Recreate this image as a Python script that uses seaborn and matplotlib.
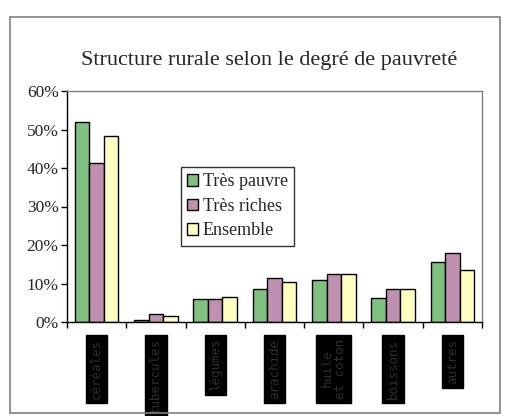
import numpy as np
import pandas as pd
import matplotlib
matplotlib.use('Agg')
import matplotlib.pyplot as plt
import matplotlib.patches as mpatches
import seaborn as sns

# ── data ──────────────────────────────────────────────
categories = ['céréales', 'tubercules', 'légumes', 'arachide',
              'huile\net coton', 'boissons', 'autres']
series = ['Très pauvre', 'Très riches', 'Ensemble']
tres_pauvre = [52.0, 0.5, 6.0, 8.5, 11.0, 6.3, 15.5]
tres_riches = [41.3, 2.0, 6.0, 11.3, 12.5, 8.5, 18.0]
ensemble    = [48.2, 1.5, 6.5, 10.3, 12.5, 8.5, 13.5]
yticks = [0, 10, 20, 30, 40, 50, 60]
colors = ['#80c080', '#c090b0', '#ffffc0']

df = pd.DataFrame({
    'cat': categories * 3,
    'serie': [s for s in series for _ in categories],
    'val': tres_pauvre + tres_riches + ensemble,
})

sns.set_style('white')
plt.rcParams['font.family'] = ['Liberation Serif', 'DejaVu Serif']

fig = plt.figure(figsize=(5.11, 4.16), dpi=100)
# outer chart frame
fig.patches.append(mpatches.Rectangle((10/511, 3/416), 490/511, 396/416,
                   transform=fig.transFigure, fill=False,
                   edgecolor='#808080', lw=1.2))

ax = fig.add_axes([67/511, 94/416, 415/511, 231/416])
sns.barplot(data=df, x='cat', y='val', hue='serie', palette=colors,
            width=0.735, gap=0, edgecolor='black', linewidth=1,
            saturation=1, ax=ax, legend=True)

ax.set_ylim(0, 60)
ax.set_xlim(-0.5, len(categories) - 0.5)
ax.set_yticks(yticks)
ax.set_yticklabels([f'{v}%' for v in yticks], fontsize=12.5)
ax.set_xlabel('')
ax.set_ylabel('')

for sp in ['left', 'bottom']:
    ax.spines[sp].set_color('black')
    ax.spines[sp].set_linewidth(1)
for sp in ['top', 'right']:
    ax.spines[sp].set_color('#808080')
    ax.spines[sp].set_linewidth(1)

ax.tick_params(axis='y', direction='out', length=4, width=1, color='black', pad=2, left=True)
# category ticks between groups, labels as rotated dark blocks
ax.set_xticks(np.arange(len(categories) + 1) - 0.5, minor=True)
ax.tick_params(axis='x', which='minor', direction='out', length=4, width=1, color='black', bottom=True)
ax.tick_params(axis='x', which='major', length=0, pad=12)
ax.set_xticks(range(len(categories)))
ax.set_xticklabels(categories, rotation=90, fontsize=9, color='#2e2e2e',
                   family='DejaVu Sans Mono', linespacing=1.1)
for lbl in ax.get_xticklabels():
    lbl.set_bbox(dict(facecolor='black', edgecolor='black', pad=3))

leg = ax.legend(loc='upper left', bbox_to_anchor=(0.275, 0.671), borderaxespad=0,
                fontsize=13, frameon=True, fancybox=False, handlelength=0.6,
                handleheight=0.6, handletextpad=0.25, labelspacing=0.42,
                borderpad=0.35)
leg.get_frame().set_edgecolor('black')
leg.get_frame().set_linewidth(1)

fig.text(269/511, 1 - 60/416, 'Structure rurale selon le degré de pauvreté',
         ha='center', va='center', fontsize=16)

plt.savefig('out.png', dpi=100)
plt.close()
